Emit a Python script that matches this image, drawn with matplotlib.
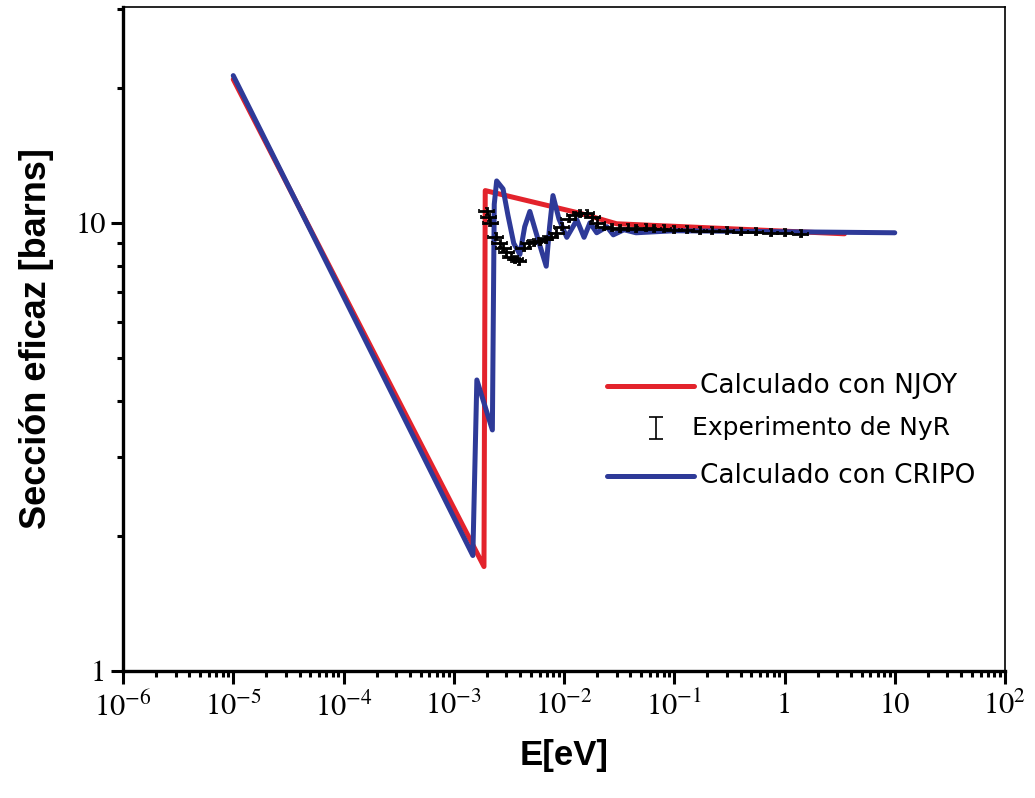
import matplotlib
matplotlib.use("Agg")
import matplotlib.pyplot as plt
from matplotlib.ticker import FixedLocator, NullFormatter, LogLocator
import numpy as np

plt.rcParams['mathtext.fontset'] = 'stix'

# ---------------- data ----------------
# NJOY calculation
E_njoy = [1e-5, 1.88e-3, 1.93e-3, 0.014, 0.03, 3.5]
sig_njoy = [20.9, 1.71, 11.8, 10.5, 9.95, 9.45]

# CRIPO calculation
E_cripo = [1e-5, 1.49e-3, 1.62e-3, 2.24e-3, 2.33e-3, 2.45e-3, 2.8e-3, 3.1e-3, 3.5e-3,
           3.98e-3, 4.4e-3, 4.9e-3, 5.8e-3, 6.9e-3, 7.4e-3, 7.94e-3, 9.0e-3, 0.0106,
           0.0131, 0.0152, 0.0172, 0.0198, 0.0245, 0.028, 0.035, 0.045, 0.1, 1.0, 10.0]
sig_cripo = [21.3, 1.81, 4.46, 3.45, 11.0, 12.4, 11.9, 10.4, 9.0,
             8.5, 9.8, 10.6, 9.2, 8.0, 9.8, 11.5, 10.2, 9.28,
             10.15, 9.28, 10.0, 9.5, 9.8, 9.4, 9.65, 9.5, 9.6, 9.55, 9.5]

# Experiment (NyR)
E_exp = [2.0e-3, 2.08e-3, 2.15e-3, 2.4e-3, 2.6e-3, 2.8e-3, 3.0e-3, 3.3e-3, 3.6e-3, 3.9e-3,
         4.3e-3, 4.8e-3, 5.4e-3, 6.0e-3, 6.8e-3, 7.6e-3, 8.5e-3, 9.5e-3, 0.011, 0.0125,
         0.014, 0.016, 0.018, 0.02, 0.023, 0.027, 0.032, 0.038, 0.045, 0.055,
         0.065, 0.08, 0.1, 0.13, 0.17, 0.22, 0.3, 0.4, 0.55, 0.75, 1.0, 1.4]
sig_exp = [10.6, 10.3, 10.0, 9.3, 9.0, 8.8, 8.6, 8.4, 8.3, 8.2,
           8.8, 9.0, 9.05, 9.1, 9.2, 9.3, 9.5, 9.8, 10.2, 10.4,
           10.5, 10.5, 10.3, 10.0, 9.8, 9.75, 9.7, 9.75, 9.7, 9.75,
           9.7, 9.7, 9.65, 9.65, 9.6, 9.6, 9.6, 9.55, 9.55, 9.5, 9.5, 9.45]
xerr_frac = 0.17
yerr_frac = 0.018

xtick_vals = [1e-6, 1e-5, 1e-4, 1e-3, 1e-2, 1e-1, 1, 10, 100]
xtick_labels = [r'$10^{-6}$', r'$10^{-5}$', r'$10^{-4}$', r'$10^{-3}$', r'$10^{-2}$',
                r'$10^{-1}$', '1', '10', r'$10^{2}$']
ytick_vals = [1, 10]
ytick_labels = ['1', '10']

# ---------------- figure ----------------
fig = plt.figure(figsize=(10.35, 7.98), dpi=100)
ax = fig.add_axes([123/1035, 1-671/798, 882/1035, 664/798])

red = '#e3232c'
blue = '#2e3a98'

ax.plot(E_njoy, sig_njoy, color=red, lw=3.6, solid_joinstyle='round',
        solid_capstyle='round', zorder=2)
ax.plot(E_cripo, sig_cripo, color=blue, lw=3.6, solid_joinstyle='round',
        solid_capstyle='round', zorder=3)

E_exp_a = np.array(E_exp)
s_exp_a = np.array(sig_exp)
xerr = [E_exp_a - E_exp_a/(1+xerr_frac), E_exp_a*(1+xerr_frac) - E_exp_a]
yerr = s_exp_a*yerr_frac
ax.errorbar(E_exp, sig_exp, xerr=xerr, yerr=yerr, fmt='none', ecolor='black',
            elinewidth=2.0, capsize=1.5, capthick=1.2, zorder=4)

ax.set_xscale('log')
ax.set_yscale('log')
ax.set_xlim(1e-6, 1e2)
ax.set_ylim(1, 30.3)

ax.xaxis.set_major_locator(FixedLocator(xtick_vals))
ax.set_xticklabels(xtick_labels, fontsize=22, fontfamily='STIXGeneral')
ax.xaxis.set_minor_locator(LogLocator(base=10, subs=np.arange(2, 10), numticks=20))
ax.xaxis.set_minor_formatter(NullFormatter())
ax.yaxis.set_major_locator(FixedLocator(ytick_vals))
ax.set_yticklabels(ytick_labels, fontsize=22, fontfamily='STIXGeneral')
ax.yaxis.set_minor_locator(LogLocator(base=10, subs=np.arange(2, 10), numticks=20))
ax.yaxis.set_minor_formatter(NullFormatter())

ax.tick_params(axis='both', which='major', direction='out', length=9, width=2.2, pad=6)
ax.tick_params(axis='both', which='minor', direction='out', length=4.5, width=2.2)
ax.tick_params(axis='y', which='major', pad=3)
ax.tick_params(axis='x', which='both', top=False)
ax.tick_params(axis='y', which='both', right=False)

for s in ['left', 'bottom']:
    ax.spines[s].set_linewidth(2.4)
for s in ['top', 'right']:
    ax.spines[s].set_linewidth(1.2)

lab_font = dict(family=['Liberation Sans Narrow', 'Liberation Sans', 'DejaVu Sans'],
                weight='bold', size=25)
ax.set_xlabel('E[eV]', fontdict=lab_font, labelpad=12)
ax.set_ylabel('Sección eficaz [barns]', fontdict=dict(lab_font, size=26), labelpad=16)

# legend drawn manually in axes coordinates
leg_font = dict(family=['DejaVu Sans'], size=19)
tr = ax.transAxes
ax.plot([0.549, 0.647], [0.429, 0.429], color=red, lw=3.6, solid_capstyle='round',
        transform=tr, clip_on=False)
ax.text(0.654, 0.429, 'Calculado con NJOY', transform=tr, va='center', ha='left', **leg_font)
ax.errorbar([0.604], [0.366], yerr=[0.017], fmt='none', ecolor='black', elinewidth=1.2,
            capsize=5, capthick=1.2, transform=tr, clip_on=False)
ax.text(0.645, 0.366, 'Experimento de NyR', transform=tr, va='center', ha='left',
        family=['DejaVu Sans'], size=18)
ax.plot([0.549, 0.647], [0.294, 0.294], color=blue, lw=3.6, solid_capstyle='round',
        transform=tr, clip_on=False)
ax.text(0.654, 0.294, 'Calculado con CRIPO', transform=tr, va='center', ha='left', **leg_font)

fig.savefig('out.png', dpi=100)
